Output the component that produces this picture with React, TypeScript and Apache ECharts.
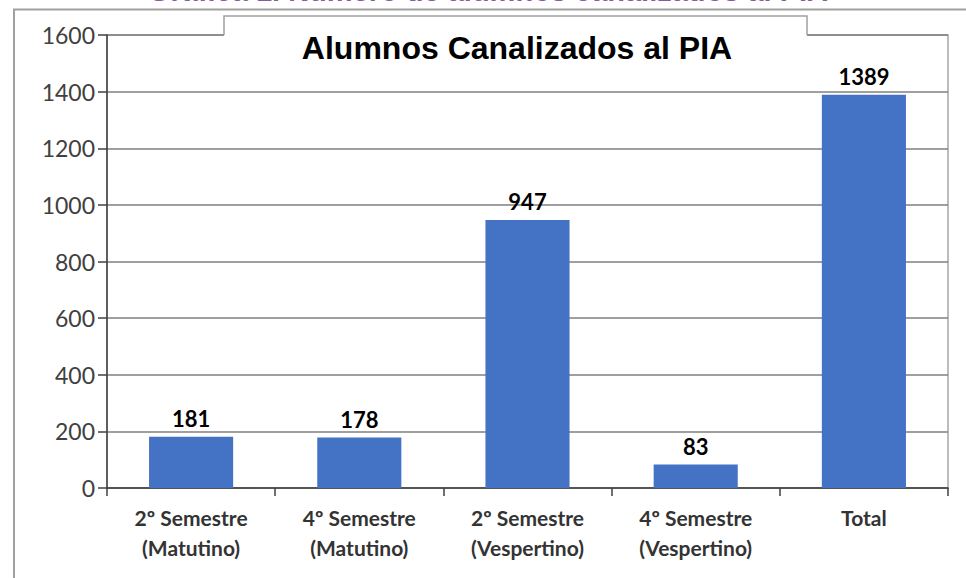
import React, { useEffect, useRef } from "react";
import * as echarts from "echarts";

const categories = [
  "2º Semestre\n(Matutino)",
  "4º Semestre\n(Matutino)",
  "2º Semestre\n(Vespertino)",
  "4º Semestre\n(Vespertino)",
  "Total",
];
const values = [181, 178, 947, 83, 1389];
const chartTitle = "Alumnos Canalizados al PIA";
const pageTitle = "Gráfica 1. Número de alumnos canalizados al PIA";
const yMin = 0;
const yMax = 1600;
const yInterval = 200;

export default function App() {
  const ref = useRef<HTMLDivElement>(null);
  useEffect(() => {
    if (!ref.current) return;
    const chart = echarts.init(ref.current, null, { renderer: "svg" });
    chart.setOption({
      animation: false,
      backgroundColor: "#ffffff",
      grid: {
        left: 107,
        right: 18,
        top: 35,
        bottom: 90,
        show: true,
        borderColor: "#a6a6a6",
        borderWidth: 1.5,
        backgroundColor: "transparent",
      },
      xAxis: {
        type: "category",
        data: categories,
        axisLine: { lineStyle: { color: "#404040", width: 1.5 } },
        axisTick: { show: true, length: 8, lineStyle: { color: "#404040", width: 1.5 } },
        axisLabel: {
          margin: 14,
          fontFamily: "Lato",
          fontWeight: "bold",
          fontSize: 21,
          lineHeight: 30,
          color: "#333333",
          interval: 0,
        },
      },
      yAxis: {
        type: "value",
        min: yMin,
        max: yMax,
        interval: yInterval,
        axisLine: { show: true, lineStyle: { color: "#404040", width: 1.5 } },
        axisTick: { show: true, length: 9, lineStyle: { color: "#404040", width: 1.5 } },
        axisLabel: {
          margin: 12,
          fontFamily: "Lato",
          fontSize: 23,
          color: "#404040",
          formatter: (v: number) => String(v),
        },
        splitLine: { show: true, lineStyle: { color: "#7f7f7f", width: 1.5 } },
      },
      series: [
        {
          type: "bar",
          data: values,
          barWidth: "50%",
          itemStyle: { color: "#4472C4" },
          label: {
            show: true,
            position: "top",
            distance: 7,
            fontFamily: "Lato",
            fontWeight: "bold",
            fontSize: 22,
            color: "#000000",
          },
          z: 3,
        },
      ],
      graphic: [
        {
          type: "polyline",
          shape: { points: [[14, 578], [14, 9.5], [966, 9.5]] },
          style: { stroke: "#a0a0a0", lineWidth: 2, fill: "none" },
          z: 10,
        },
        {
          type: "text",
          x: 488,
          y: -9,
          style: {
            text: pageTitle,
            fontFamily: "Liberation Sans",
            fontWeight: "bold",
            fontSize: 29,
            fill: "#8a5a9b",
            textAlign: "center",
            textVerticalAlign: "middle",
          },
          z: 10,
        },
        {
          type: "rect",
          shape: { x: 224, y: 16, width: 583, height: 50 },
          style: { fill: "#ffffff" },
          z: 10,
        },
        {
          type: "polyline",
          shape: { points: [[224, 35], [224, 16], [807, 16], [807, 35]] },
          style: { stroke: "#a0a0a0", lineWidth: 1.5, fill: "none" },
          z: 11,
        },
        {
          type: "text",
          x: 517,
          y: 48,
          style: {
            text: chartTitle,
            fontFamily: "Liberation Sans",
            fontWeight: "bold",
            fontSize: 32,
            fill: "#000000",
            textAlign: "center",
            textVerticalAlign: "middle",
          },
          z: 11,
        },
      ],
    });
    return () => chart.dispose();
  }, []);
  return (
    <div
      ref={ref}
      style={{ position: "absolute", left: 0, top: 0, width: 966, height: 578 }}
    />
  );
}
